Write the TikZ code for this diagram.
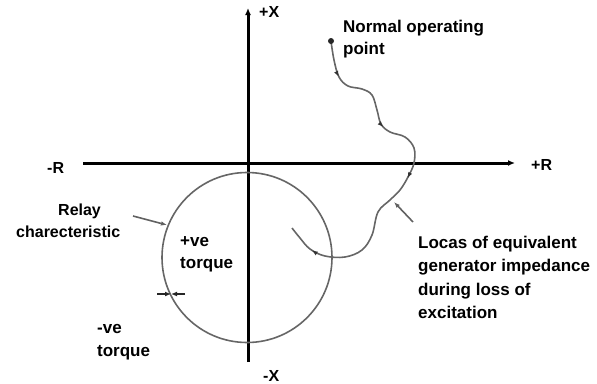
\documentclass[tikz,border=0pt]{standalone}
\usepackage{fontspec}
\setmainfont{Liberation Sans}
\usetikzlibrary{arrows.meta,decorations.markings}
\begin{document}
\begin{tikzpicture}[x=1pt,y=-1pt,
  lbl/.style={font=\bfseries\fontsize{17}{23}\selectfont, align=left, inner sep=0pt, anchor=base west},
  small/.style={font=\bfseries\fontsize{16}{20}\selectfont, inner sep=0pt, anchor=base west},
  axisline/.style={line width=3pt, black},
  greyline/.style={line width=1.6pt, black!62}
]
\useasboundingbox (0,0) rectangle (597,383);

% axes
\coordinate (xl) at (83,163);
\coordinate (xr) at (515,163);
\coordinate (yt) at (248,8);
\coordinate (yb) at (248,362);
\draw[axisline, -{Latex[length=7pt,width=6pt]}] (xl) -- (xr);
\draw[axisline, -{Latex[length=7pt,width=6pt]}] (yb) -- (yt);

\node[small] (px) at (259,17) {+X};
\node[small] (mx) at (263,381) {-X};
\node[small] (mr) at (47,173) {-R};
\node[small] (pr) at (531,170) {+R};

% relay circle
\node[draw=black!60, line width=1.6pt, circle, minimum size=170pt, inner sep=0pt] (circ) at (247,257.5) {};

% locus
\coordinate (start) at (331,41);
\draw[greyline, black!60,
  postaction={decorate}, decoration={markings,
    mark=at position 0.105 with {\arrow[black!80]{Latex[length=6pt,width=4.5pt]}},
    mark=at position 0.315 with {\arrow[black!80]{Latex[length=6pt,width=4.5pt]}},
    mark=at position 0.515 with {\arrow[black!80]{Latex[length=6pt,width=4.5pt]}},
    mark=at position 0.915 with {\arrow[black!80]{Latex[length=6pt,width=4.5pt]}}}]
  plot[smooth, tension=0.6] coordinates {(331,41) (334,60) (339,77) (348,86) (362,89) (372,95) (377,110) (381,124) (390,132) (405,137) (414,148) (414,163) (408,177) (400,190) (390,200) (378,212) (372,235) (362,250) (345,257) (325,256) (310,249) (300,238) (292,228)};
\fill[black!85] (start) circle (3pt);

% labels (multi-line nodes are placed by the baseline of their last line)
\node[lbl, font=\bfseries\fontsize{17}{22}\selectfont] (nop) at (343,54) {Normal operating\\point};
\node[lbl, font=\bfseries\fontsize{17}{23.5}\selectfont] (loc) at (418,318.5) {Locas of equivalent\\generator impedance\\during loss of\\excitation};
\node[small, font=\bfseries\fontsize{16}{22}\selectfont] (relay) at (58,215) {Relay};
\node[small, font=\bfseries\fontsize{16}{22}\selectfont] (chr) at (16,237) {charecteristic};
\node[lbl, font=\bfseries\fontsize{17}{22}\selectfont] (pvt) at (180,268) {+ve\\torque};
\node[lbl] (nvt) at (97,356) {-ve\\torque};

% pointer arrows
\coordinate (ra) at (133,216);
\coordinate (rb) at (167,225);
\draw[greyline, -{Latex[length=6pt,width=4.5pt]}] (ra) -- (rb);
\coordinate (la) at (413,222);
\coordinate (lb) at (394,202);
\draw[greyline, -{Latex[length=6pt,width=4.5pt]}] (la) -- (lb);
\coordinate (da) at (157,294);
\coordinate (db) at (171,294);
\coordinate (dc) at (185,294);
\draw[greyline, black!85, -{Latex[length=6pt,width=5pt]}] (da) -- (db);
\draw[greyline, black!85, -{Latex[length=6pt,width=5pt]}] (dc) -- (db);
\end{tikzpicture}
\end{document}
